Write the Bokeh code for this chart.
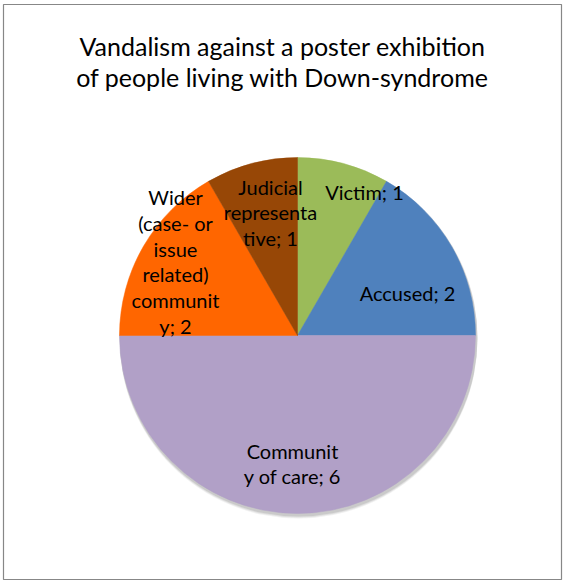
import numpy as np
from bokeh.plotting import figure
from bokeh.models import ColumnDataSource, Range1d
from bokeh.embed import file_html
from bokeh.resources import INLINE
from bokeh.core.properties import value

# ---- data ----
categories = ["Victim", "Accused", "Community of care",
              "Wider (case- or issue related) community", "Judicial representative"]
values = [1, 2, 6, 2, 1]
label_texts = ["Victim; 1", "Accused; 2", "Communit\ny of care; 6",
               "Wider\n(case- or\nissue\nrelated)\ncommunit\ny; 2",
               "Judicial\nrepresenta\ntive; 1"]
title_lines = ["Vandalism against a poster exhibition",
               "of people living with Down-syndrome"]

# ---- styling / layout ----
colors = ["#9BBB59", "#4F81BD", "#B1A0C7", "#FF6600", "#974706"]
W, H = 564, 581
CX, CY, R = 297, 335, 178          # pie centre / radius in page pixels
label_pos = [(364, 191), (407, 292), (292, 463), (175, 261), (270, 212)]
FONT = "Lato"

def fy(y):
    return H - y

vals = np.array(values, dtype=float)
frac = np.cumsum(np.concatenate([[0], vals])) / vals.sum()
start = np.pi / 2 - 2 * np.pi * frac[:-1]
end = np.pi / 2 - 2 * np.pi * frac[1:]

src = ColumnDataSource(dict(cat=categories, val=values, start=start, end=end, color=colors))

p = figure(width=W, height=H, x_range=Range1d(0, W), y_range=Range1d(0, H),
           output_backend="svg", toolbar_location=None, min_border=0)
p.axis.visible = False
p.grid.visible = False
p.outline_line_color = None
p.background_fill_color = "white"
p.border_fill_color = "white"

# outer chart border
p.quad(left=[3], right=[561], bottom=[fy(579)], top=[fy(4)],
       fill_color=None, line_color="#878787", line_width=1.2)

# soft shadow
for off, a in [(4, 0.10), (3, 0.15), (2, 0.2)]:
    p.circle(x=[CX + 1], y=[fy(CY) - off], radius=R + 1, fill_color="#7a7a7a",
             fill_alpha=a, line_color=None)

p.wedge(x=CX, y=fy(CY), radius=R, start_angle="start", end_angle="end",
        direction="clock", fill_color="color", line_color="color", line_width=0.5,
        source=src)

# data labels
lx = [q[0] for q in label_pos]
ly = [fy(q[1]) for q in label_pos]
p.text(x=lx, y=ly, text=label_texts, text_align="center", text_baseline="middle",
       text_font=value(FONT), text_font_size="20px", text_line_height=1.08,
       text_color="black")

# title
p.text(x=[282, 282], y=[fy(45), fy(76)], text=title_lines, text_align="center",
       text_baseline="middle", text_font=value(FONT), text_font_size="25px",
       text_color="black")

open("out.html", "w").write(file_html(p, INLINE))
